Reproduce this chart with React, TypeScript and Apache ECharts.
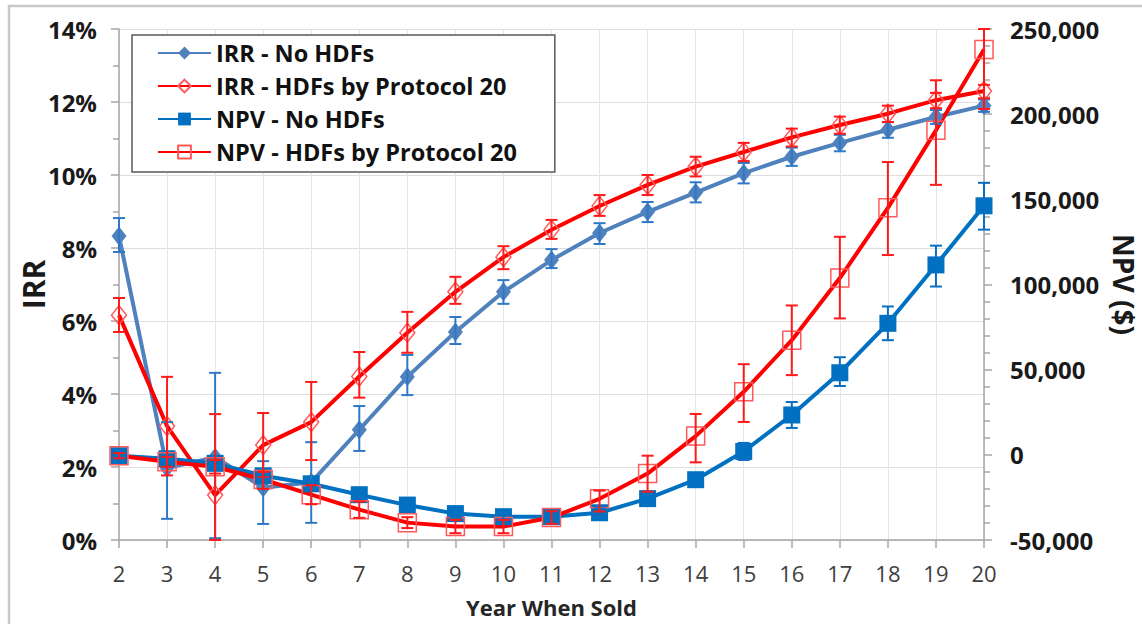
import React, { useEffect, useRef } from "react";
import * as echarts from "echarts";

const years = ["2", "3", "4", "5", "6", "7", "8", "9", "10", "11", "12", "13", "14", "15", "16", "17", "18", "19", "20"];

// IRR (%) - No HDFs
const irrNo = [8.33, 1.97, 2.27, 1.43, 1.58, 3.02, 4.47, 5.70, 6.80, 7.67, 8.41, 8.99, 9.52, 10.05, 10.50, 10.88, 11.24, 11.59, 11.90];
const irrNoLow = [7.89, 0.58, 0.05, 0.44, 0.47, 2.44, 3.97, 5.37, 6.47, 7.45, 8.11, 8.71, 9.25, 9.77, 10.25, 10.65, 11.02, 11.40, 11.73];
const irrNoHigh = [8.82, 3.23, 4.58, 2.16, 2.68, 3.67, 5.07, 6.11, 7.12, 7.97, 8.68, 9.26, 9.80, 10.33, 10.75, 11.10, 11.45, 11.78, 12.07];

// IRR (%) - HDFs by Protocol 20
const irrHdf = [6.16, 3.12, 1.23, 2.60, 3.23, 4.48, 5.68, 6.80, 7.75, 8.50, 9.15, 9.73, 10.23, 10.63, 11.03, 11.37, 11.68, 12.05, 12.30];
const irrHdfLow = [5.70, 1.77, 0.00, 1.72, 2.19, 3.90, 5.13, 6.47, 7.42, 8.25, 8.88, 9.45, 9.96, 10.38, 10.78, 11.13, 11.45, 11.83, 12.10];
const irrHdfHigh = [6.63, 4.47, 3.45, 3.48, 4.33, 5.15, 6.25, 7.21, 8.05, 8.77, 9.45, 10.00, 10.50, 10.88, 11.27, 11.60, 11.90, 12.25, 12.47];

// NPV ($) - No HDFs
const npvNo = [-500, -2300, -5000, -12300, -17000, -23400, -29500, -34500, -36300, -36300, -34000, -25700, -14600, 2000, 23400, 48200, 77200, 111500, 146200];
const npvNoLow = [-1500, -3500, -6500, -14000, -19000, -25500, -31500, -36500, -38500, -38500, -36500, -28500, -18000, -3000, 15800, 40400, 67300, 98800, 132200];
const npvNoHigh = [500, -1000, -3500, -10500, -15000, -21500, -27500, -32500, -34000, -34000, -31500, -23000, -11000, 7000, 31000, 57300, 87100, 122800, 159700];

// NPV ($) - HDFs by Protocol 20
const npvHdf = [-500, -4100, -7000, -14500, -23400, -32200, -39800, -42100, -42100, -36800, -25800, -11000, 11000, 37000, 67300, 103800, 145000, 190500, 238000];
const npvHdfLow = [-2000, -7000, -11000, -20000, -29000, -37000, -43000, -46000, -46000, -40500, -33300, -21600, -4400, 19300, 46800, 80100, 117300, 158500, 203000];
const npvHdfHigh = [1000, -1200, -3000, -10000, -17800, -27400, -36600, -38200, -38200, -33100, -21000, -500, 24000, 53200, 87700, 128000, 171900, 219900, 250000];

const seriesNames = ["IRR - No HDFs", "IRR - HDFs by Protocol 20", "NPV - No HDFs", "NPV - HDFs by Protocol 20"];

const FONT = "'Open Sans', 'DejaVu Sans', sans-serif";

function errRows(lo: number[], hi: number[]) {
  return lo.map((l, i) => [i, l, hi[i]]);
}

function errorSeries(name: string, lo: number[], hi: number[], color: string, yAxisIndex: number) {
  return {
    type: "custom",
    name: name + " err",
    yAxisIndex,
    z: 4,
    silent: true,
    encode: { x: 0, y: [1, 2] },
    data: errRows(lo, hi),
    renderItem: (params: any, api: any) => {
      const i = api.value(0);
      const a = api.coord([i, api.value(1)]);
      const b = api.coord([i, api.value(2)]);
      const w = 6;
      const style = { stroke: color, lineWidth: 2, fill: null };
      return {
        type: "group",
        children: [
          { type: "line", shape: { x1: a[0], y1: a[1], x2: b[0], y2: b[1] }, style },
          { type: "line", shape: { x1: a[0] - w, y1: a[1], x2: a[0] + w, y2: a[1] }, style },
          { type: "line", shape: { x1: b[0] - w, y1: b[1], x2: b[0] + w, y2: b[1] }, style },
        ],
      };
    },
  };
}

function fmtThousands(v: number) {
  const s = Math.abs(v).toString().replace(/\B(?=(\d{3})+(?!\d))/g, ",");
  return (v < 0 ? "-" : "") + s;
}

export default function App() {
  const ref = useRef<HTMLDivElement>(null);
  useEffect(() => {
    if (!ref.current) return;
    const chart = echarts.init(ref.current, null, { renderer: "svg" });
    const axisColor = "#a6a6a6";
    const option: any = {
      animation: false,
      backgroundColor: "#ffffff",
      textStyle: { fontFamily: FONT },
      graphic: [
        {
          type: "rect",
          shape: { x: 9, y: 6, width: 1150, height: 640 },
          style: { fill: null, stroke: "#c8c8c8", lineWidth: 2.5 },
          silent: true,
          z: -10,
        },
      ],
      grid: { left: 119, right: 158, top: 29, bottom: 84, containLabel: false, outerBoundsMode: "none" },
      legend: {
        orient: "vertical",
        left: 132,
        top: 35,
        data: seriesNames,
        itemWidth: 53,
        itemHeight: 16,
        itemGap: 7,
        padding: [5, 38, 7, 25],
        borderColor: "#595959",
        borderWidth: 1.5,
        backgroundColor: "#ffffff",
        textStyle: { fontFamily: FONT, fontSize: 23.5, fontWeight: "bold", color: "#111111", lineHeight: 26 },
      },
      xAxis: {
        type: "category",
        data: years,
        boundaryGap: false,
        axisLine: { lineStyle: { color: axisColor, width: 1.5 } },
        axisTick: { show: true, length: 8, lineStyle: { color: axisColor, width: 1.5 } },
        splitLine: { show: true, lineStyle: { color: "#e6e6e6", width: 1 } },
        axisLabel: { fontFamily: FONT, fontSize: 22, color: "#404040", margin: 22 },
        name: "Year When Sold",
        nameLocation: "middle",
        nameGap: 56,
        nameTextStyle: { fontFamily: FONT, fontSize: 22, fontWeight: "bold", color: "#262626" },
      },
      yAxis: [
        {
          type: "value",
          min: 0,
          max: 14,
          interval: 2,
          axisLine: { show: true, lineStyle: { color: axisColor, width: 1.5 } },
          axisTick: { show: true, length: 8, lineStyle: { color: axisColor, width: 1.5 } },
          minorTick: { show: true, splitNumber: 2, length: 6, lineStyle: { color: axisColor, width: 1.5 } },
          splitLine: { show: true, lineStyle: { color: "#dedede", width: 1 } },
          axisLabel: { formatter: "{value}%", fontFamily: FONT, fontSize: 24, fontWeight: "bold", color: "#1a1a1a", margin: 22 },
          name: "IRR",
          nameLocation: "middle",
          nameGap: 71,
          nameMoveOverlap: false,
          nameTextStyle: { fontFamily: FONT, fontSize: 30, fontWeight: "bold", color: "#1a1a1a" },
        },
        {
          type: "value",
          min: -50000,
          max: 250000,
          interval: 50000,
          position: "right",
          axisLine: { show: true, lineStyle: { color: axisColor, width: 1.5 } },
          axisTick: { show: true, length: 8, lineStyle: { color: axisColor, width: 1.5 } },
          minorTick: { show: true, splitNumber: 5, length: 6, lineStyle: { color: axisColor, width: 1.5 } },
          splitLine: { show: false },
          axisLabel: { formatter: fmtThousands, fontFamily: FONT, fontSize: 24, fontWeight: "bold", color: "#1a1a1a", margin: 26 },
          name: "NPV ($)",
          nameLocation: "middle",
          nameRotate: -90,
          nameGap: 118,
          nameTextStyle: { fontFamily: FONT, fontSize: 28, fontWeight: "bold", color: "#1a1a1a" },
        },
      ],
      series: [
        errorSeries(seriesNames[0], irrNoLow, irrNoHigh, "#2f78c8", 0),
        errorSeries(seriesNames[1], irrHdfLow, irrHdfHigh, "#ff1a1a", 0),
        errorSeries(seriesNames[2], npvNoLow, npvNoHigh, "#0a6fc2", 1),
        errorSeries(seriesNames[3], npvHdfLow, npvHdfHigh, "#ff1a1a", 1),
        {
          type: "line",
          name: seriesNames[0],
          data: irrNo,
          yAxisIndex: 0,
          z: 3,
          symbol: "diamond",
          symbolSize: [15, 19],
          lineStyle: { color: "#4f81bd", width: 4 },
          itemStyle: { color: "#4f81bd" },
        },
        {
          type: "line",
          name: seriesNames[1],
          data: irrHdf,
          yAxisIndex: 0,
          z: 3,
          symbol: "diamond",
          symbolSize: [15, 19],
          lineStyle: { color: "#ff0000", width: 4 },
          itemStyle: { color: "rgba(255,255,255,0)", borderColor: "#ff5a5a", borderWidth: 1.5 },
        },
        {
          type: "line",
          name: seriesNames[2],
          data: npvNo,
          yAxisIndex: 1,
          z: 3,
          symbol: "rect",
          symbolSize: 17,
          lineStyle: { color: "#0070c0", width: 4 },
          itemStyle: { color: "#0070c0" },
        },
        {
          type: "line",
          name: seriesNames[3],
          data: npvHdf,
          yAxisIndex: 1,
          z: 3,
          symbol: "rect",
          symbolSize: 18,
          lineStyle: { color: "#ff0000", width: 4 },
          itemStyle: { color: "rgba(255,255,255,0)", borderColor: "#ff5a5a", borderWidth: 1.5 },
        },
      ],
    };
    chart.setOption(option);
    return () => chart.dispose();
  }, []);
  return <div ref={ref} style={{ position: "absolute", left: 0, top: 0, width: 1142, height: 624 }} />;
}
